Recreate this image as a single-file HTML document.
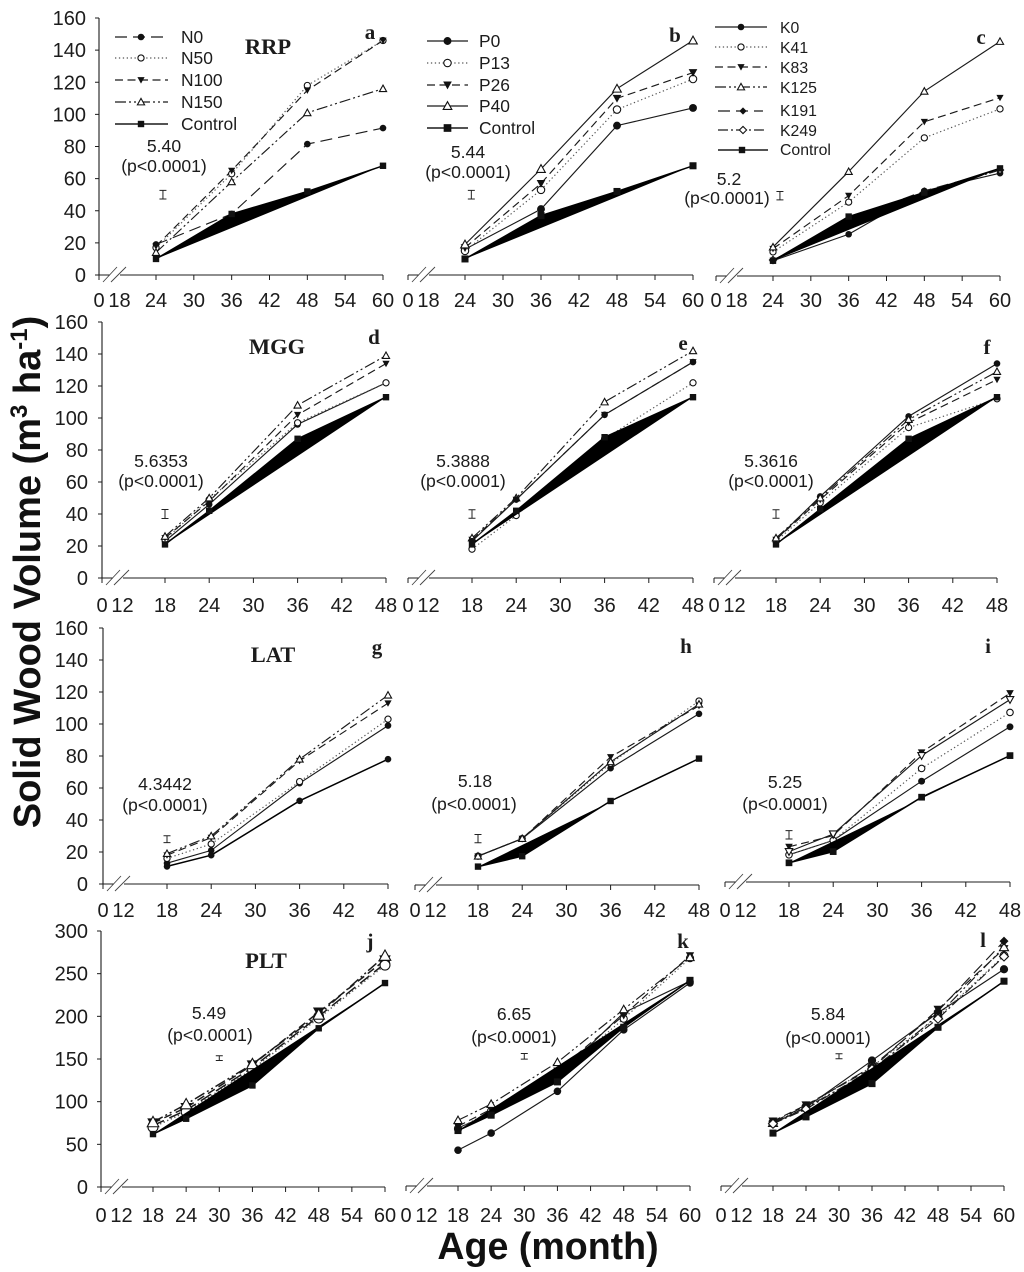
<!DOCTYPE html>
<html>
<head>
<meta charset="utf-8">
<title>Solid Wood Volume by Age</title>
<style>
html,body{margin:0;padding:0;background:#fff;}
#chart{display:block;width:1024px;height:1272px;filter:blur(0.35px);}
text{font-family:"Liberation Sans",sans-serif;fill:#1c1c1c;}
.tick{font-size:20px;}
.stat{font-size:17.6px;text-anchor:middle;}
.leg{font-size:17.4px;}
.legk{font-size:15.8px;}
.title{font-family:"Liberation Serif",serif;font-weight:bold;font-size:22.5px;text-anchor:middle;}
.letter{font-family:"Liberation Serif",serif;font-weight:bold;font-size:21px;text-anchor:middle;}
.axt{font-weight:bold;font-size:37.6px;fill:#111;}
.axy{font-size:38px;}
</style>
</head>
<body>
<svg id="chart" xmlns="http://www.w3.org/2000/svg" width="1024" height="1272" viewBox="0 0 1024 1272">
  <text class="axt axy" transform="translate(40,572) rotate(-90)" text-anchor="middle">Solid Wood Volume (m<tspan dy="-13" font-size="24">3</tspan><tspan dy="13"> ha</tspan><tspan dy="-13" font-size="24">-1</tspan><tspan dy="13">)</tspan></text>
  <text class="axt" x="548" y="1259" text-anchor="middle">Age (month)</text>

  <text class="title" x="268" y="54">RRP</text>
  <text class="title" x="277" y="354">MGG</text>
  <text class="title" x="273" y="662">LAT</text>
  <text class="title" x="266" y="968">PLT</text>

  <text class="letter" x="370" y="39">a</text>
  <text class="letter" x="675" y="42">b</text>
  <text class="letter" x="981" y="44">c</text>
  <text class="letter" x="374" y="344">d</text>
  <text class="letter" x="683" y="350">e</text>
  <text class="letter" x="987" y="354">f</text>
  <text class="letter" x="377" y="654">g</text>
  <text class="letter" x="686" y="653">h</text>
  <text class="letter" x="988" y="653">i</text>
  <text class="letter" x="370" y="948">j</text>
  <text class="letter" x="683" y="948">k</text>
  <text class="letter" x="983" y="947">l</text>

  <g><text class="stat" x="164" y="152">5.40</text><text class="stat" x="164" y="172">(p&lt;0.0001)</text></g>
  <g><text class="stat" x="468" y="158">5.44</text><text class="stat" x="468" y="178">(p&lt;0.0001)</text></g>
  <g><text class="stat" x="729" y="185">5.2</text><text class="stat" x="727" y="204">(p&lt;0.0001)</text></g>
  <g><text class="stat" x="161" y="467">5.6353</text><text class="stat" x="161" y="487">(p&lt;0.0001)</text></g>
  <g><text class="stat" x="463" y="467">5.3888</text><text class="stat" x="463" y="487">(p&lt;0.0001)</text></g>
  <g><text class="stat" x="771" y="467">5.3616</text><text class="stat" x="771" y="487">(p&lt;0.0001)</text></g>
  <g><text class="stat" x="165" y="790">4.3442</text><text class="stat" x="165" y="811">(p&lt;0.0001)</text></g>
  <g><text class="stat" x="475" y="787">5.18</text><text class="stat" x="474" y="810">(p&lt;0.0001)</text></g>
  <g><text class="stat" x="785" y="788">5.25</text><text class="stat" x="785" y="810">(p&lt;0.0001)</text></g>
  <g><text class="stat" x="209" y="1019">5.49</text><text class="stat" x="210" y="1041">(p&lt;0.0001)</text></g>
  <g><text class="stat" x="514" y="1020">6.65</text><text class="stat" x="514" y="1043">(p&lt;0.0001)</text></g>
  <g><text class="stat" x="828" y="1020">5.84</text><text class="stat" x="828" y="1044">(p&lt;0.0001)</text></g>

  <g>
    <text class="leg" x="181" y="43">N0</text>
    <text class="leg" x="181" y="64">N50</text>
    <text class="leg" x="181" y="86">N100</text>
    <text class="leg" x="181" y="108">N150</text>
    <text class="leg" x="181" y="130">Control</text>
  </g>
  <g>
    <text class="leg" x="479" y="47">P0</text>
    <text class="leg" x="479" y="69">P13</text>
    <text class="leg" x="479" y="91">P26</text>
    <text class="leg" x="479" y="112">P40</text>
    <text class="leg" x="479" y="134">Control</text>
  </g>
  <g>
    <text class="legk" x="780" y="33">K0</text>
    <text class="legk" x="780" y="53">K41</text>
    <text class="legk" x="780" y="73">K83</text>
    <text class="legk" x="780" y="93">K125</text>
    <text class="legk" x="780" y="116">K191</text>
    <text class="legk" x="780" y="136">K249</text>
    <text class="legk" x="780" y="155">Control</text>
  </g>
</svg>
<script>
// ---- data ----
const yTicks160 = [0,20,40,60,80,100,120,140,160];
const yTicks300 = [0,50,100,150,200,250,300];
const monthsTop = [24,36,48,60];
const monthsMid = [18,24,36,48];
const monthsPlt = [18,24,36,48,60];
const tickMonthsTop = [24,30,36,42,48,54,60];
const tickMonthsMid = [18,24,30,36,42,48];
const tickMonthsPlt = [18,24,30,36,42,48,54,60];
const breakLabelTop = '18';
const breakLabelOther = '12';

const aN0 = [19,38,81.5,91.5];
const aN50 = [17,63,118,146];
const aN100 = [18,65,115,146];
const aN150 = [14,58,101,116];
const aControl = [10,38,52,68];

const bP0 = [16,41,93,104];
const bP13 = [15,53,103,122];
const bP26 = [17,57,110,126];
const bP40 = [19,66,116,146];
const bControl = [10,37,52,68];

const cK0 = [9.5,26,53,64];
const cK41 = [15,46,86,104];
const cK83 = [17,50,96,111];
const cK125 = [18,65,115,146];
const cK191 = [9.5,35,53,66];
const cK249 = [10,33,52,66];
const cControl = [9.5,37,52,67];

const dN0 = [23,46,96,122];
const dN50 = [24,49,97,122];
const dN100 = [25,48,102,134];
const dN150 = [26,50,108,139];
const dControl = [21,42,87,113];

const eP0 = [23,49,102,135];
const eP13 = [18,39,87,122];
const eP26 = [24,49,102,135];
const eP40 = [25,50,110,142];
const eControl = [21,42,88,113];

const fK0 = [24,51,101,134];
const fK41 = [23,47,94,112];
const fK83 = [24,49,97,124];
const fK125 = [25,50,99,129];
const fControl = [21,43,87,113];

const gN0 = [13,21,63,99];
const gN50 = [16,25,64,103];
const gN100 = [18,29,77,113];
const gN150 = [19,30,78,118];
const gControl = [11,18,52,78];

const hP0 = [18,29,73,107];
const hP13 = [18,29,76,115];
const hP26 = [18,29,80,112];
const hP40 = [18,29,77,113];
const hControl = [11.5,18,52.5,79];

const iK0 = [17,26,63,97];
const iK41 = [17,26,71,106];
const iK83 = [22,29,81,118];
const iK125 = [19,30,79,114];
const iControl = [12,19,53,79];

const jN0 = [72,90,140,200,262];
const jN50 = [70,88,138,198,260];
const jN100 = [75,93,143,205,266];
const jN150 = [76,97,144,202,271];
const jControl = [62,80,119,186,239];

const kP0 = [42,62,111,183,238];
const kP13 = [67,88,130,196,267];
const kP26 = [70,90,135,200,270];
const kP33 = [68,85,128,203,240];
const kP40 = [77,96,145,207,268];
const kControl = [65,83,122,186,241];

const lK0 = [73,92,147,203,254];
const lK41 = [75,93,140,198,270];
const lK83 = [76,95,138,207,278];
const lK125 = [74,92,135,200,280];
const lK191 = [75,94,140,205,287];
const lK249 = [73,90,137,196,269];
const lControl = [62,81,120,186,240];

// significance bars: month, centre value, LSD
const errMonths = [25.1,25,25.1,18,18,18,18,18,18,30,30,30];
const errCentres = [50,50,50,40,40,40,28,29,29.5,151,152,152];
const errLsd = [5.4,5.44,5.2,5.6353,5.3888,5.3616,4.3442,5.18,5.25,5.49,6.65,5.84];

// ---- styling & layout ----
const DASH = {solid:'', dot:'1.3,2.6', dash:'8,4.5', ddd:'11,3,2,3,2,3', long:'12,6', dd:'10,3,2,3'};
const GREY = {dot:'#555'};

const SN = (name,vals,line,mark) => ({name,vals,line,mark});
const panels = [
 {id:'a',m:monthsTop,t:tickMonthsTop,br:breakLabelTop,x0:99,xa:156,xb:383,yb:275,yt:18,ymax:160,yt_:yTicks160,lx:86,base:307,ms:1,fill:true,
  series:[SN('N0',aN0,'long','circle'),SN('N50',aN50,'dot','ocircle'),SN('N100',aN100,'dash','tridown'),SN('N150',aN150,'ddd','otri')],ctrl:aControl},
 {id:'b',m:monthsTop,t:tickMonthsTop,br:breakLabelTop,x0:408,xa:465,xb:693,yb:275,yt:18,ymax:160,base:307,ms:1.2,fill:true,
  series:[SN('P0',bP0,'solid','circle'),SN('P13',bP13,'dot','ocircle'),SN('P26',bP26,'dash','tridown'),SN('P40',bP40,'solid','otri')],ctrl:bControl},
 {id:'c',m:monthsTop,t:tickMonthsTop,br:breakLabelTop,x0:716,xa:773,xb:1000,yb:276,yt:19,ymax:160,base:307,ms:1,fill:true,
  series:[SN('K0',cK0,'solid','circle'),SN('K41',cK41,'dot','ocircle'),SN('K83',cK83,'dash','tridown'),SN('K125',cK125,'solid','otri'),SN('K191',cK191,'long','diamond'),SN('K249',cK249,'dd','odiamond')],ctrl:cControl},
 {id:'d',m:monthsMid,t:tickMonthsMid,br:breakLabelOther,x0:102,xa:165,xb:386,yb:578,yt:322,ymax:160,yt_:yTicks160,lx:88,base:612,ms:1,fill:true,
  series:[SN('N0',dN0,'solid','circle'),SN('N50',dN50,'dot','ocircle'),SN('N100',dN100,'dash','tridown'),SN('N150',dN150,'ddd','otri')],ctrl:dControl},
 {id:'e',m:monthsMid,t:tickMonthsMid,br:breakLabelOther,x0:408,xa:472,xb:693,yb:578,yt:322,ymax:160,base:612,ms:1,fill:true,
  series:[SN('P13',eP13,'dot','ocircle'),SN('P26',eP26,'dash','tridown'),SN('P40',eP40,'ddd','otri'),SN('P0',eP0,'solid','circle')],ctrl:eControl},
 {id:'f',m:monthsMid,t:tickMonthsMid,br:breakLabelOther,x0:714,xa:776,xb:997,yb:578,yt:322,ymax:160,base:612,ms:1,fill:true,
  series:[SN('K0',fK0,'solid','circle'),SN('K41',fK41,'dot','ocircle'),SN('K83',fK83,'dash','tridown'),SN('K125',fK125,'ddd','otri')],ctrl:fControl},
 {id:'g',m:monthsMid,t:tickMonthsMid,br:breakLabelOther,x0:103,xa:167,xb:388,yb:884,yt:628,ymax:160,yt_:yTicks160,lx:88,base:917,ms:1,fill:false,ctrlMark:'circle',
  series:[SN('N0',gN0,'solid','circle'),SN('N50',gN50,'dot','ocircle'),SN('N100',gN100,'dash','tridown'),SN('N150',gN150,'ddd','otri')],ctrl:gControl},
 {id:'h',m:monthsMid,t:tickMonthsMid,br:breakLabelOther,x0:415,xa:478,xb:699,yb:885,yt:629,ymax:160,base:917,ms:1,fill:true,
  series:[SN('P0',hP0,'solid','circle'),SN('P13',hP13,'dot','ocircle'),SN('P26',hP26,'dash','tridown'),SN('P40',hP40,'solid','otri')],ctrl:hControl},
 {id:'i',m:monthsMid,t:tickMonthsMid,br:breakLabelOther,x0:725,xa:789,xb:1010,yb:882,yt:626,ymax:160,base:917,ms:1.05,fill:true,
  series:[SN('K0',iK0,'solid','circle'),SN('K41',iK41,'dot','ocircle'),SN('K83',iK83,'dash','tridown'),SN('K125',iK125,'solid','otridown')],ctrl:iControl},
 {id:'j',m:monthsPlt,t:tickMonthsPlt,br:breakLabelOther,x0:101,xa:153,xb:385,yb:1187,yt:931,ymax:300,yt_:yTicks300,lx:88,base:1222,ms:1.6,fill:true,
  series:[SN('N0',jN0,'long','circle'),SN('N100',jN100,'dash','tridown'),SN('N50',jN50,'dot','ocircle'),SN('N150',jN150,'ddd','otri')],ctrl:jControl},
 {id:'k',m:monthsPlt,t:tickMonthsPlt,br:breakLabelOther,x0:406,xa:458,xb:690,yb:1186,yt:930,ymax:300,base:1222,ms:1.15,fill:true,
  series:[SN('P0',kP0,'solid','circle'),SN('P33',kP33,'solid','circle'),SN('P13',kP13,'dot','ocircle'),SN('P26',kP26,'dash','tridown'),SN('P40',kP40,'ddd','otri')],ctrl:kControl},
 {id:'l',m:monthsPlt,t:tickMonthsPlt,br:breakLabelOther,x0:721,xa:773,xb:1004,yb:1186,yt:930,ymax:300,base:1222,ms:1.25,fill:true,
  series:[SN('K0',lK0,'solid','circle'),SN('K41',lK41,'dot','ocircle'),SN('K83',lK83,'dash','tridown'),SN('K125',lK125,'ddd','otri'),SN('K191',lK191,'long','diamond'),SN('K249',lK249,'dd','odiamond')],ctrl:lControl}
];

const legends = [
 {id:'a',ms:1,rows:[[115,168,141,37,'long','circle'],[115,168,141,58,'dot','ocircle'],[115,168,141,80,'dash','tridown'],[115,168,141,102,'ddd','otri'],[115,168,141,124,'solid','square']]},
 {id:'b',ms:1.2,rows:[[427,468,447.5,41,'solid','circle'],[427,468,447.5,63,'dot','ocircle'],[427,468,447.5,85,'dash','tridown'],[427,468,447.5,106,'solid','otri'],[427,468,447.5,128,'solid','square']]},
 {id:'c',ms:1,rows:[[715,767,741,27,'solid','circle'],[715,767,741,47,'dot','ocircle'],[715,767,741,67,'dash','tridown'],[715,767,741,87,'ddd','otri'],[718,763,743,111,'long','diamond'],[718,767,743,130,'dd','odiamond'],[718,768,742,150,'solid','square']]}
];

// ---- drawing ----
const NS = 'http://www.w3.org/2000/svg';
const chart = document.getElementById('chart');
const INK = '#1c1c1c';
function node(tag, parent, attrs){
  const n = document.createElementNS(NS, tag);
  for (const k in attrs) n.setAttribute(k, attrs[k]);
  parent.appendChild(n);
  return n;
}
function marker(type, x, y, s, parent, name){
  const filled = !(type==='ocircle'||type==='otri'||type==='odiamond'||type==='otridown');
  const st = {fill: filled?'#111':'#fff', stroke: filled?'none':'#111', 'stroke-width':1.1};
  let el;
  if (type==='circle'||type==='ocircle'){
    el = node('circle', parent, Object.assign({cx:x,cy:y,r:(filled?3.3:3.1)*s}, st));
  } else if (type==='square'){
    const a = 3.2*s;
    el = node('rect', parent, Object.assign({x:x-a,y:y-a,width:2*a,height:2*a}, st));
  } else {
    const a = 3.6*s;
    let pts;
    if (type==='otri') pts = [[x,y-a],[x+a,y+a*0.8],[x-a,y+a*0.8]];
    else if (type==='tridown'||type==='otridown') pts = [[x-a,y-a*0.8],[x+a,y-a*0.8],[x,y+a]];
    else pts = [[x,y-a],[x+a,y],[x,y+a],[x-a,y]];
    el = node('polygon', parent, Object.assign({points:pts.map(p=>p.join(',')).join(' ')}, st));
  }
  
  
  return el;
}

panels.forEach(function(p, idx){
  const xs = m => p.xa + (m - p.m[0]) * (p.xb - p.xa) / (p.m[p.m.length-1] - p.m[0]);
  const ys = v => p.yb - v * (p.yb - p.yt) / p.ymax;

  const g = node('g', chart, {});
  
  

  // x axis (broken)
  const ax = node('path', g, {d:'M'+p.x0+' '+p.yb+'H'+(p.x0+11)+'M'+(p.x0+21)+' '+p.yb+'H'+p.xb, fill:'none', stroke:INK, 'stroke-width':1.1});
  
  

  const brk = node('path', g, {d:'M'+(p.x0+4)+' '+(p.yb+7)+'l14 -15M'+(p.x0+12)+' '+(p.yb+7)+'l15 -15', fill:'none', stroke:'#444', 'stroke-width':0.9});
  
  

  const t0 = node('line', g, {x1:p.x0,x2:p.x0,y1:p.yb,y2:p.yb+5,stroke:INK,'stroke-width':1});
  
  

  const l0 = node('text', g, {class:'tick',x:p.x0,y:p.base,'text-anchor':'middle'});
  l0.textContent = '0';
  
  

  const l1 = node('text', g, {class:'tick',x:p.x0+20.5,y:p.base,'text-anchor':'middle'});
  l1.textContent = p.br;
  
  

  p.t.forEach(function(m){
    const tk = node('line', g, {x1:xs(m),x2:xs(m),y1:p.yb,y2:p.yb+5,stroke:INK,'stroke-width':1});
    
    
    const lb = node('text', g, {class:'tick',x:xs(m),y:p.base,'text-anchor':'middle'});
    lb.textContent = String(m);
    
    
  });

  // y axis (left column only)
  if (p.yt_){
    const ya = node('line', g, {x1:p.x0,x2:p.x0,y1:p.yt,y2:p.yb,stroke:INK,'stroke-width':1.1});
    
    
    p.yt_.forEach(function(v){
      const tk = node('line', g, {x1:p.x0-4,x2:p.x0,y1:ys(v),y2:ys(v),stroke:INK,'stroke-width':1});
      
      
      const lb = node('text', g, {class:'tick',x:p.lx,y:ys(v)+7,'text-anchor':'end'});
      lb.textContent = String(v);
      
      
    });
  }

  // significance bar
  const ex = xs(errMonths[idx]);
  const ec = ys(errCentres[idx]);
  const eh = errLsd[idx] * (p.yb - p.yt) / p.ymax / 2;
  const eb = node('path', g, {d:'M'+(ex-3.5)+' '+(ec-eh)+'h7M'+ex+' '+(ec-eh)+'V'+(ec+eh)+'M'+(ex-3.5)+' '+(ec+eh)+'h7',fill:'none',stroke:'#222','stroke-width':1});
  
  

  p.series.forEach(function(s){
    const d = s.vals.map((v,i)=>(i?'L':'M')+xs(p.m[i])+' '+ys(v)).join('');
    const ln = node('path', g, {d:d, fill:'none', stroke:GREY[s.line]||'#1a1a1a','stroke-width':p.ms>1.3?1.5:1.15,'stroke-dasharray':DASH[s.line]});
    
    
  });
  p.series.forEach(function(s){
    s.vals.forEach(function(v,i){
      marker(s.mark, xs(p.m[i]), ys(v), p.ms, g, 'series-' + s.name.toLowerCase() + '-point-' + p.id + '-' + p.m[i]);
    });
  });

  // control series drawn last: its open path is filled, producing the black wedge
  const dc = p.ctrl.map((v,i)=>(i?'L':'M')+xs(p.m[i])+' '+ys(v)).join('');
  const cl = node('path', g, {d:dc, fill:p.fill?'#000':'none', stroke:'#000','stroke-width':1.5,'stroke-linejoin':'round'});
  
  
  p.ctrl.forEach(function(v,i){
    marker(p.ctrlMark||'square', xs(p.m[i]), ys(v), p.ms>1.3?1:Math.min(p.ms,1.1), g, 'series-control-point-' + p.id + '-' + p.m[i]);
  });
});

legends.forEach(function(L){
  const g = node('g', chart, {});
  
  
  L.rows.forEach(function(r, i){
    const ln = node('line', g, {x1:r[0],x2:r[1],y1:r[3],y2:r[3],stroke:GREY[r[4]]||'#1a1a1a','stroke-width':r[5]==='square'?1.5:1.15,'stroke-dasharray':DASH[r[4]]});
    
    
    marker(r[5], r[2], r[3], L.ms, g, 'legend-marker-' + L.id + '-' + i);
  });
});
</script>
</body>
</html>
